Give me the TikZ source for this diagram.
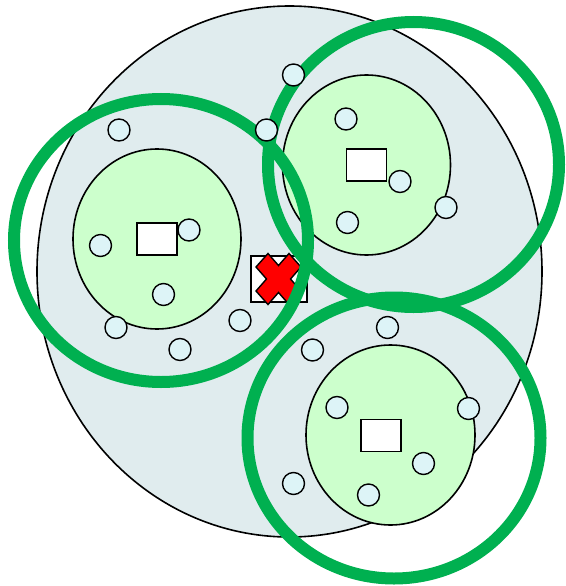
\documentclass[tikz,border=0pt]{standalone}
\usepackage{tikz}
\usetikzlibrary{shapes}

\definecolor{cellgray}{RGB}{224,236,238}
\definecolor{hostgreen}{RGB}{204,255,204}
\definecolor{itemblue}{RGB}{221,244,247}
\definecolor{ringgreen}{RGB}{0,176,80}

\tikzset{
  cell/.style={draw=black,line width=1.6pt,fill=cellgray},
  host/.style={draw=black,line width=1.6pt,fill=hostgreen},
  core/.style={draw=black,line width=1.5pt,fill=white,rectangle,inner sep=0pt,minimum width=40pt,minimum height=32pt},
  item/.style={draw=black,line width=1.4pt,fill=itemblue,circle,inner sep=0pt,minimum size=22pt},
  ring/.style={draw=ringgreen,line width=12pt},
  fault/.style={draw=black,line width=1.4pt,fill=red,line join=miter}
}

\begin{document}
\begin{tikzpicture}[x=1pt,y=-1pt]
        \useasboundingbox (0,0) rectangle (565,586);
        \draw[cell] (289.5,271.5) ellipse [x radius=252.5, y radius=265.5];
        \draw[host] (157,239) ellipse [x radius=84, y radius=90];
        \draw[host] (366.5,165) ellipse [x radius=84, y radius=90];
        \draw[host] (390.5,435) ellipse [x radius=84.5, y radius=90];
        \node[core] (c1) at (157,239) {};
        \node[core] (c2) at (366.5,165) {};
        \node[core] (c3) at (381,435.5) {};
        \node[core,minimum width=56pt,minimum height=46pt] (box) at (279,279) {};
        \draw[fault,shift={(278.5,279)}] (-22.5,-12) -- (-10.5,-25.5) -- (0,-13.5) -- (10.5,-25.5) -- (22.5,-12) -- (12,0)
            -- (22.5,12) -- (10.5,25.5) -- (0,13.5) -- (-10.5,25.5) -- (-22.5,12) -- (-12,0) -- cycle;
        \draw[ring] (161,240.5) ellipse [x radius=147, y radius=141.5];
        \draw[ring] (413.5,164.5) ellipse [x radius=145.5, y radius=142.5];
        \draw[ring] (394,438) ellipse [x radius=146.5, y radius=140.5];
        \node[item] (a1) at (119,130) {};
        \node[item] (a2) at (189,230) {};
        \node[item] (a3) at (100.5,245.5) {};
        \node[item] (a4) at (163.5,294.5) {};
        \node[item] (a5) at (116,327.5) {};
        \node[item] (a6) at (240,320.5) {};
        \node[item] (a7) at (180,349.5) {};
        \node[item] (b1) at (293.5,75) {};
        \node[item] (b2) at (266.5,130) {};
        \node[item] (b3) at (346,119) {};
        \node[item] (b4) at (400,181.5) {};
        \node[item] (b5) at (347.5,222.5) {};
        \node[item] (b6) at (446,207.5) {};
        \node[item] (d1) at (387.5,327.5) {};
        \node[item] (d2) at (312.5,350) {};
        \node[item] (d3) at (337,407.5) {};
        \node[item] (d4) at (468.5,408.5) {};
        \node[item] (d5) at (423.5,463.5) {};
        \node[item] (d6) at (293.5,483.5) {};
        \node[item] (d7) at (368.5,495) {};
    \end{tikzpicture}
\end{document}
